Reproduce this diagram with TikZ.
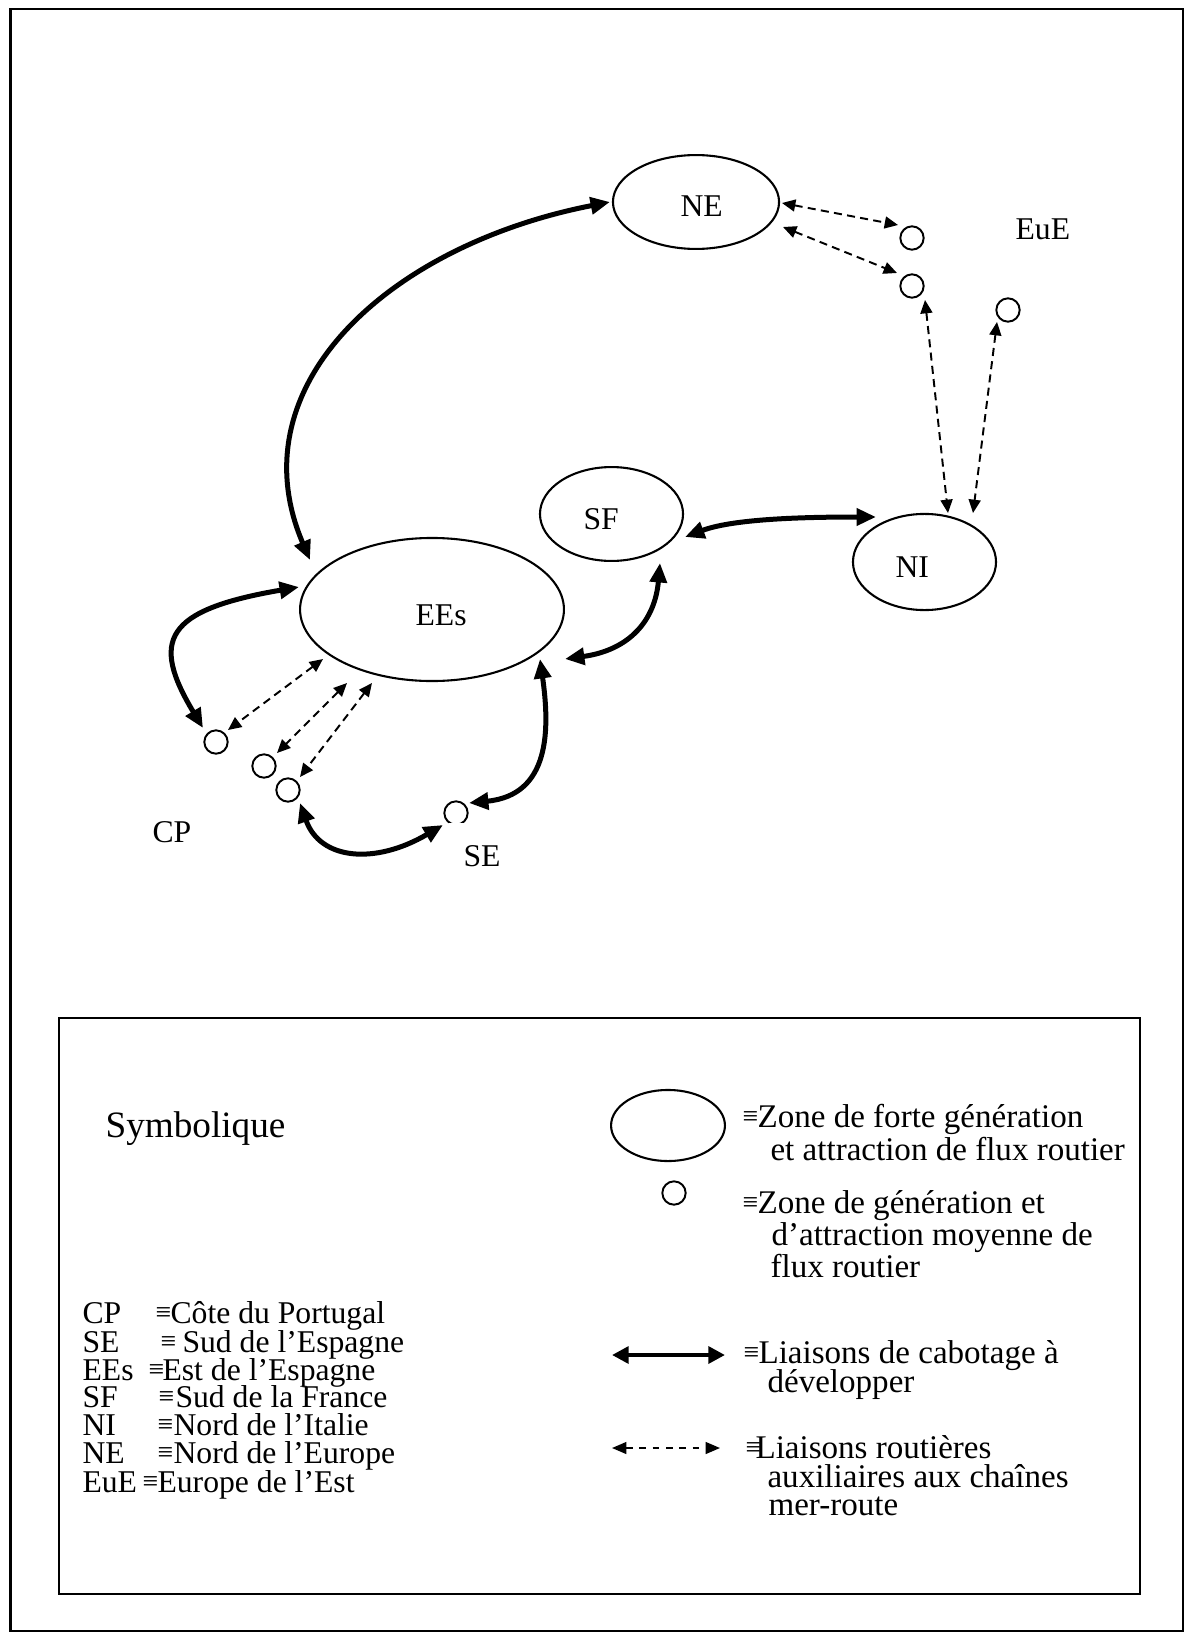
\documentclass[tikz,border=0pt]{standalone}
\usepackage{fontspec}
\setmainfont{Liberation Serif}
\usetikzlibrary{arrows.meta,calc,shapes.geometric}
\newcommand{\eqv}{\raisebox{0.5pt}{\fontsize{10}{11}\selectfont ≡}}
\begin{document}
\begin{tikzpicture}[x=0.36pt,y=-0.36pt,
  zone/.style={draw,ellipse,line width=0.75pt,inner sep=0pt},
  pt/.style={draw,circle,line width=0.7pt,inner sep=0pt,minimum size=8.4pt},
  lab/.style={inner sep=0pt,anchor=base west,font=\fontsize{11.4}{13}\selectfont},
  llab/.style={lab,text height=8pt,text depth=1.5pt},
  leg/.style={inner sep=0pt,anchor=base west,font=\fontsize{11.9}{13}\selectfont,text height=8.5pt,text depth=1.5pt},
  cab/.style={line width=1.8pt,{Triangle[length=7pt,width=6pt]}-{Triangle[length=7pt,width=6pt]}},
  rte/.style={line width=0.7pt,dash pattern=on 2.9pt off 1.9pt,{Triangle[length=4.8pt,width=4.3pt]}-{Triangle[length=4.8pt,width=4.3pt]}},
  cabl/.style={line width=1.6pt,{Triangle[length=6pt,width=6pt]}-{Triangle[length=6pt,width=6pt]}},
  rtel/.style={line width=0.55pt,dash pattern=on 2.4pt off 2.4pt,{Triangle[length=5.2pt,width=4.3pt]}-{Triangle[length=5.2pt,width=4.3pt]}}
]
\useasboundingbox (0,0) rectangle (1187,1635);
% frames
\draw[line width=1pt] (10.5,9) rectangle (1183,1631);
\draw[line width=1pt] (59,1018) rectangle (1140,1594);

% zones
\node[zone,minimum width=59.8pt,minimum height=33.8pt] (NE) at (696,202) {};
\node[zone,minimum width=95pt,minimum height=51.5pt] (EEs) at (432,609.5) {};
\node[zone,minimum width=51.5pt,minimum height=33.8pt] (SF) at (611.5,514) {};
\node[zone,minimum width=51.5pt,minimum height=34.6pt] (NI) at (924.5,562) {};
\node[pt] (c1) at (912,238) {};
\node[pt] (c2) at (912,286) {};
\node[pt] (c3) at (1008,310) {};
\node[pt] (cp1) at (216,742) {};
\node[pt] (cp2) at (264,766) {};
\node[pt] (cp3) at (288,790) {};
\node[pt] (se) at (456,813) {};

% labels
\node[lab] (tNE) at (680,217) {NE};
\node[lab] (tEEs) at (415,625) {EEs};
\node[lab] (tSF) at (583,529) {SF};
\node[lab] (tNI) at (895,577) {NI};
\node[lab] (tEuE) at (1015,240) {EuE};
\node[lab] (tCP) at (152,842) {CP};

% cabotage links
\draw[cab] ($(NE)+(-86,0)$) .. controls (390,245) and (235,385) .. ($(EEs)+(-122,-49.5)$);
\draw[cab] ($(SF)+(73.5,23)$) .. controls (730,520) and (790,517) .. ($(NI)+(-48.5,-45)$);
\draw[cab] ($(SF)+(48.5,49)$) .. controls (655,620) and (630,650) .. ($(EEs)+(133,49.5)$);
\draw[cab] ($(EEs)+(-133,-22.5)$) .. controls (165,610) and (150,640) .. ($(cp1)+(-13,-14)$);
\draw[cab] ($(EEs)+(108,49.5)$) .. controls (550,730) and (550,795) .. ($(se)+(13,-10)$);
\draw[cab] ($(cp3)+(12,13)$) .. controls (320,860) and (375,865) .. ($(se)+(-13,12)$);

% road links
\draw[rte] ($(NE)+(86,1)$) -- ($(c1)+(-14,-13)$);
\draw[rte] ($(NE)+(87,25)$) -- ($(c2)+(-15,-13)$);
\draw[rte] ($(c2)+(13,14)$) -- ($(NI)+(23.5,-49)$);
\draw[rte] ($(c3)+(-11,12)$) -- ($(NI)+(48.5,-49)$);
\draw[rte] ($(EEs)+(-109,49.5)$) -- ($(cp1)+(12,-12)$);
\draw[rte] ($(EEs)+(-85,73.5)$) -- ($(cp2)+(13,-13)$);
\draw[rte] ($(EEs)+(-60,73.5)$) -- ($(cp3)+(12,-13)$);

\node[lab,fill=white,text height=15.6pt,text depth=1pt] (tSE) at (448,866) {\hspace{5.4pt}SE};

% legend
\node[lab,font=\fontsize{13.4}{15}\selectfont] (sym) at (105,1137) {Symbolique};
\node[zone,minimum width=41pt,minimum height=25.6pt] (lz) at (668,1125.5) {};
\node[pt] (lp) at (674,1193) {};
\coordinate (la1) at (612,1355);
\coordinate (la2) at (725,1355);
\draw[cabl] (la1) -- (la2);
\coordinate (lb1) at (612,1448);
\coordinate (lb2) at (720,1448);
\draw[rtel] (lb1) -- (lb2);

\node[leg] (e1) at (742,1127) {\eqv};
\node[leg] (t1) at (757,1127) {Zone de forte génération};
\node[leg] (t1b) at (770,1160) {et attraction de flux routier};
\node[leg] (e2) at (742,1213) {\eqv};
\node[leg] (t2) at (757,1213) {Zone de génération et};
\node[leg] (t2b) at (771,1245) {d’attraction moyenne de};
\node[leg] (t2c) at (770,1277) {flux routier};
\node[leg] (e3) at (743,1363) {\eqv};
\node[leg] (t3) at (758,1363) {Liaisons de cabotage à};
\node[leg] (t3b) at (767,1392) {développer};
\node[leg] (e4) at (745,1458) {\eqv};
\node[leg] (t4) at (755,1458) {Liaisons routières};
\node[leg] (t4b) at (767,1487) {auxiliaires aux chaînes};
\node[leg] (t4c) at (768,1515) {mer-route};

\node[llab] (a1) at (82,1323) {CP};  \node[llab] (q1) at (155,1323) {\eqv}; \node[llab] (d1) at (170,1323) {Côte du Portugal};
\node[llab] (a2) at (82,1352) {SE};  \node[llab] (q2) at (160,1352) {\eqv}; \node[llab] (d2) at (182,1352) {Sud de l’Espagne};
\node[llab] (a3) at (82,1380) {EEs}; \node[llab] (q3) at (148,1380) {\eqv}; \node[llab] (d3) at (162,1380) {Est de l’Espagne};
\node[llab] (a4) at (82,1407) {SF};  \node[llab] (q4) at (158,1407) {\eqv}; \node[llab] (d4) at (175,1407) {Sud de la France};
\node[llab] (a5) at (82,1435) {NI};  \node[llab] (q5) at (157,1435) {\eqv}; \node[llab] (d5) at (173,1435) {Nord de l’Italie};
\node[llab] (a6) at (82,1463) {NE};  \node[llab] (q6) at (157,1463) {\eqv}; \node[llab] (d6) at (173,1463) {Nord de l’Europe};
\node[llab] (a7) at (82,1492) {EuE}; \node[llab] (q7) at (142,1492) {\eqv}; \node[llab] (d7) at (157,1492) {Europe de l’Est};
\end{tikzpicture}
\end{document}
